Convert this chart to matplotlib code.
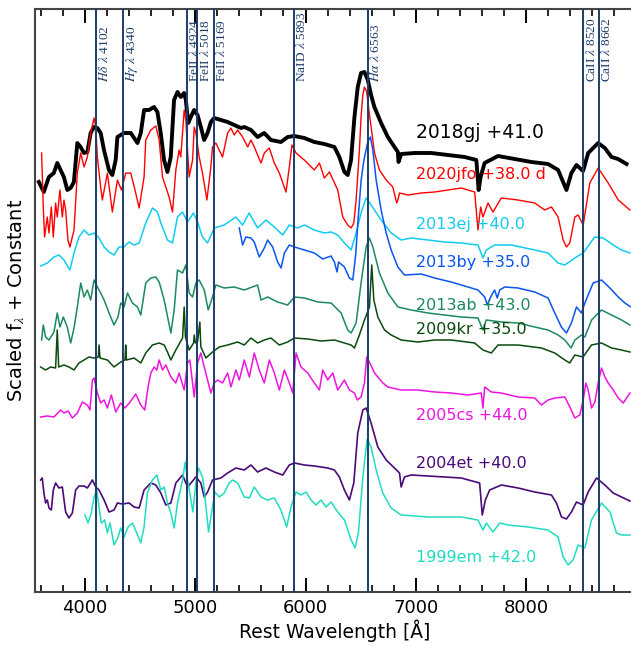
import matplotlib
matplotlib.use("Agg")
import matplotlib.pyplot as plt
from matplotlib.ticker import MultipleLocator

plt.rcParams['mathtext.fontset'] = 'stix'

# Spectra: rest wavelength [A] and scaled flux + constant
wl_2018gj = [3580, 3625, 3671, 3716, 3747, 3777, 3807, 3838, 3868, 3898, 3929, 3959, 3989, 4020, 4050,
             4080, 4111, 4141, 4171, 4216, 4247, 4277, 4293, 4323, 4353, 4414, 4475, 4505, 4535, 4580,
             4625, 4656, 4686, 4716, 4747, 4777, 4807, 4838, 4868, 4898, 4914, 4935, 4959, 4989, 5020,
             5050, 5080, 5111, 5141, 5171, 5232, 5293, 5353, 5414, 5444, 5505, 5565, 5625, 5686, 5777,
             5838, 5898, 5989, 6080, 6171, 6262, 6307, 6353, 6383, 6413, 6444, 6474, 6504, 6535, 6565,
             6595, 6625, 6686, 6747, 6807, 6838, 6844, 6868, 6989, 7141, 7292, 7444, 7550, 7571, 7589,
             7625, 7747, 7898, 8050, 8201, 8292, 8368, 8413, 8459, 8519, 8565, 8656, 8716, 8777, 8837,
             8913]
fx_2018gj = [4.10, 4.00, 4.15, 4.19, 4.29, 4.22, 4.15, 4.02, 4.04, 4.10, 4.49, 4.45, 4.39, 4.40, 4.59,
             4.65, 4.64, 4.59, 4.42, 4.22, 4.17, 4.32, 4.55, 4.57, 4.59, 4.59, 4.49, 4.59, 4.82, 4.82,
             4.85, 4.80, 4.59, 4.32, 4.20, 4.35, 4.92, 5.00, 4.95, 4.99, 4.92, 4.69, 4.75, 4.82, 4.77,
             4.65, 4.52, 4.59, 4.70, 4.74, 4.72, 4.70, 4.67, 4.64, 4.65, 4.62, 4.55, 4.59, 4.52, 4.50,
             4.55, 4.56, 4.54, 4.50, 4.48, 4.45, 4.35, 4.20, 4.17, 4.32, 4.75, 5.05, 5.19, 5.20, 5.12,
             4.97, 4.85, 4.69, 4.55, 4.45, 4.40, 4.30, 4.38, 4.39, 4.39, 4.37, 4.35, 4.32, 4.02, 4.15,
             4.29, 4.36, 4.33, 4.30, 4.28, 4.22, 4.02, 4.19, 4.27, 4.21, 4.39, 4.49, 4.44, 4.35, 4.33,
             4.28]

wl_2020jfo = [3605, 3620, 3632, 3656, 3672, 3693, 3711, 3732, 3747, 3771, 3793, 3808, 3823, 3844, 3862,
              3884, 3899, 3929, 3960, 3990, 4020, 4050, 4081, 4096, 4111, 4141, 4156, 4202, 4247, 4293,
              4329, 4369, 4414, 4459, 4490, 4535, 4550, 4596, 4641, 4672, 4702, 4762, 4793, 4823, 4853,
              4868, 4899, 4914, 4929, 4944, 4975, 4990, 5005, 5035, 5065, 5105, 5141, 5156, 5186, 5217,
              5247, 5293, 5323, 5353, 5384, 5429, 5475, 5505, 5535, 5596, 5626, 5671, 5717, 5762, 5823,
              5853, 5877, 5914, 5989, 6080, 6126, 6171, 6217, 6292, 6338, 6383, 6414, 6438, 6459, 6489,
              6505, 6520, 6535, 6555, 6575, 6595, 6626, 6671, 6732, 6792, 6828, 6838, 6853, 6929, 7050,
              7171, 7413, 7535, 7565, 7589, 7610, 7656, 7701, 7777, 7929, 8080, 8171, 8232, 8292, 8338,
              8368, 8398, 8444, 8474, 8520, 8580, 8656, 8747, 8838, 8944]
fx_2020jfo = [4.39, 3.85, 3.55, 3.75, 3.59, 3.85, 3.55, 3.89, 3.75, 4.02, 3.75, 3.92, 3.82, 3.52, 3.45,
              3.55, 3.62, 4.19, 4.39, 4.25, 4.35, 4.59, 4.74, 4.65, 4.35, 4.05, 3.92, 4.19, 3.80, 4.12,
              4.02, 4.19, 4.19, 3.99, 3.84, 4.15, 4.52, 4.62, 4.66, 4.52, 4.15, 3.95, 3.80, 4.22, 4.42,
              4.35, 4.82, 4.72, 4.42, 4.15, 4.32, 4.65, 4.59, 4.35, 4.19, 3.92, 4.25, 4.45, 4.49, 4.42,
              4.35, 4.59, 4.64, 4.57, 4.62, 4.55, 4.45, 4.52, 4.45, 4.29, 4.39, 4.44, 4.29, 4.19, 4.00,
              4.25, 4.47, 4.39, 4.32, 4.22, 4.29, 4.14, 4.20, 4.02, 3.75, 3.67, 3.64, 3.69, 3.92, 4.42,
              4.77, 4.97, 5.05, 5.00, 4.82, 4.65, 4.39, 4.22, 4.12, 4.05, 3.89, 3.92, 3.99, 3.97, 3.99,
              4.00, 4.04, 4.00, 3.62, 3.85, 3.75, 3.89, 3.80, 3.94, 3.92, 3.89, 3.82, 3.85, 3.75, 3.52,
              3.45, 3.49, 3.75, 3.77, 3.67, 4.09, 4.24, 4.09, 3.92, 3.82]

wl_2013ej = [3596, 3657, 3717, 3762, 3808, 3862, 3899, 3944, 3990, 4035, 4081, 4126, 4172, 4217, 4262,
             4308, 4353, 4399, 4444, 4490, 4550, 4611, 4656, 4687, 4747, 4793, 4838, 4884, 4929, 4983,
             5020, 5065, 5111, 5171, 5262, 5368, 5429, 5489, 5565, 5641, 5717, 5793, 5853, 5929, 5990,
             6080, 6171, 6232, 6292, 6353, 6414, 6459, 6504, 6550, 6595, 6686, 6777, 6868, 6959, 7110,
             7262, 7413, 7565, 7610, 7641, 7716, 7868, 8080, 8201, 8292, 8353, 8444, 8519, 8625, 8701,
             8792, 8868, 8944]
fx_2013ej = [3.26, 3.29, 3.35, 3.37, 3.32, 3.22, 3.39, 3.55, 3.62, 3.57, 3.59, 3.54, 3.45, 3.40, 3.37,
             3.45, 3.45, 3.50, 3.47, 3.49, 3.69, 3.84, 3.80, 3.69, 3.52, 3.49, 3.75, 3.80, 3.70, 3.79,
             3.70, 3.55, 3.49, 3.64, 3.67, 3.75, 3.67, 3.79, 3.64, 3.72, 3.65, 3.57, 3.67, 3.64, 3.67,
             3.62, 3.59, 3.60, 3.57, 3.49, 3.42, 3.59, 3.79, 3.94, 3.87, 3.72, 3.59, 3.52, 3.54, 3.52,
             3.50, 3.49, 3.47, 3.34, 3.42, 3.47, 3.47, 3.42, 3.39, 3.29, 3.27, 3.34, 3.39, 3.55, 3.54,
             3.47, 3.42, 3.39]

wl_2013by = [5399, 5429, 5459, 5505, 5535, 5580, 5626, 5656, 5702, 5747, 5778, 5808, 5853, 5899, 5990,
             6080, 6156, 6232, 6262, 6286, 6300, 6353, 6398, 6429, 6455, 6480, 6505, 6530, 6565, 6589,
             6611, 6641, 6686, 6732, 6777, 6838, 6898, 7050, 7171, 7322, 7474, 7565, 7626, 7650, 7680,
             7716, 7740, 7762, 7808, 7929, 8080, 8201, 8262, 8322, 8368, 8413, 8459, 8504, 8535, 8610,
             8686, 8762, 8838, 8898, 8953]
fx_2013by = [3.64, 3.47, 3.55, 3.54, 3.50, 3.35, 3.44, 3.52, 3.45, 3.30, 3.24, 3.39, 3.47, 3.45, 3.42,
             3.39, 3.33, 3.36, 3.30, 3.20, 3.30, 3.25, 3.14, 3.12, 3.37, 3.77, 4.12, 4.32, 4.50, 4.55,
             4.42, 4.12, 3.82, 3.59, 3.42, 3.25, 3.17, 3.18, 3.14, 3.10, 3.05, 3.02, 2.95, 2.87, 2.95,
             3.02, 2.94, 3.02, 3.05, 3.04, 3.00, 2.94, 2.79, 2.65, 2.59, 2.69, 2.85, 2.79, 2.89, 3.09,
             3.12, 3.04, 2.95, 2.89, 2.85]

wl_2013ab = [3605, 3620, 3641, 3672, 3717, 3747, 3772, 3802, 3838, 3869, 3899, 3929, 3960, 3990, 4020,
             4050, 4081, 4111, 4141, 4172, 4217, 4262, 4298, 4323, 4353, 4384, 4429, 4475, 4505, 4550,
             4596, 4641, 4672, 4717, 4778, 4808, 4838, 4884, 4914, 4944, 4975, 5005, 5035, 5081, 5117,
             5156, 5186, 5262, 5353, 5444, 5565, 5596, 5656, 5747, 5838, 5899, 5990, 6111, 6232, 6323,
             6383, 6414, 6459, 6504, 6550, 6580, 6611, 6671, 6747, 6838, 6959, 7110, 7262, 7413, 7565,
             7610, 7640, 7777, 7929, 8080, 8201, 8292, 8353, 8410, 8444, 8505, 8535, 8596, 8686, 8777,
             8868, 8944]
fx_2013ab = [2.52, 2.67, 2.55, 2.52, 2.60, 2.79, 2.65, 2.75, 2.65, 2.49, 2.64, 2.85, 3.09, 2.95, 3.02,
             2.92, 3.12, 3.05, 2.99, 2.92, 2.79, 2.67, 2.75, 2.89, 2.85, 2.99, 2.89, 2.85, 2.77, 3.09,
             3.14, 3.15, 3.10, 2.92, 2.59, 2.82, 3.22, 3.19, 3.27, 2.99, 2.95, 3.09, 3.12, 3.02, 2.82,
             2.95, 3.07, 3.04, 3.05, 3.02, 3.07, 2.92, 2.95, 2.90, 2.87, 2.95, 2.94, 2.90, 2.89, 2.79,
             2.62, 2.59, 2.69, 3.09, 3.45, 3.54, 3.45, 3.19, 2.99, 2.85, 2.82, 2.79, 2.77, 2.75, 2.74,
             2.62, 2.72, 2.70, 2.69, 2.65, 2.62, 2.57, 2.52, 2.44, 2.52, 2.57, 2.55, 2.72, 2.82, 2.77,
             2.72, 2.67]

wl_2009kr = [3596, 3641, 3687, 3732, 3747, 3760, 3808, 3853, 3899, 3944, 3990, 4035, 4081, 4120, 4126,
             4135, 4202, 4262, 4323, 4362, 4368, 4375, 4444, 4505, 4550, 4611, 4672, 4717, 4747, 4778,
             4823, 4884, 4899, 4910, 4944, 4984, 4990, 5000, 5020, 5041, 5050, 5096, 5156, 5217, 5293,
             5384, 5444, 5505, 5565, 5626, 5686, 5762, 5838, 5899, 6020, 6141, 6262, 6353, 6414, 6444,
             6489, 6535, 6580, 6601, 6620, 6656, 6717, 6777, 6868, 7020, 7171, 7322, 7535, 7610, 7686,
             7747, 7929, 8141, 8262, 8353, 8398, 8444, 8519, 8595, 8686, 8777, 8868, 8944]
fx_2009kr = [2.25, 2.22, 2.25, 2.24, 2.62, 2.25, 2.27, 2.25, 2.22, 2.29, 2.32, 2.35, 2.34, 2.35, 2.47,
             2.34, 2.32, 2.25, 2.30, 2.32, 2.47, 2.32, 2.34, 2.29, 2.39, 2.47, 2.49, 2.47, 2.40, 2.32,
             2.42, 2.54, 2.85, 2.55, 2.42, 2.49, 2.57, 2.49, 2.50, 2.70, 2.45, 2.34, 2.40, 2.45, 2.47,
             2.50, 2.47, 2.54, 2.49, 2.52, 2.54, 2.47, 2.50, 2.54, 2.53, 2.51, 2.52, 2.49, 2.47, 2.44,
             2.57, 2.72, 2.85, 3.27, 2.92, 2.75, 2.62, 2.57, 2.52, 2.50, 2.52, 2.52, 2.49, 2.42, 2.39,
             2.47, 2.47, 2.44, 2.39, 2.32, 2.29, 2.37, 2.35, 2.47, 2.49, 2.44, 2.42, 2.40]

wl_2005cs = [3596, 3657, 3717, 3778, 3808, 3847, 3884, 3929, 3975, 4020, 4044, 4066, 4081, 4111, 4141,
             4172, 4202, 4238, 4278, 4323, 4362, 4408, 4459, 4505, 4541, 4571, 4596, 4626, 4650, 4672,
             4702, 4732, 4778, 4823, 4853, 4899, 4929, 4950, 4990, 5020, 5050, 5081, 5111, 5141, 5171,
             5202, 5247, 5293, 5323, 5368, 5399, 5444, 5490, 5535, 5580, 5626, 5672, 5717, 5762, 5808,
             5853, 5884, 5914, 5959, 6020, 6080, 6126, 6156, 6201, 6247, 6292, 6353, 6398, 6444, 6470,
             6504, 6535, 6555, 6580, 6626, 6702, 6747, 6868, 7020, 7171, 7322, 7474, 7595, 7610, 7626,
             7686, 7777, 7929, 8080, 8141, 8201, 8262, 8353, 8399, 8444, 8489, 8520, 8544, 8565, 8596,
             8626, 8656, 8686, 8717, 8747, 8792, 8838, 8883, 8944]
fx_2005cs = [1.75, 1.76, 1.75, 1.82, 1.79, 1.81, 1.74, 1.79, 1.90, 1.87, 1.82, 2.12, 2.14, 1.99, 1.89,
             1.92, 1.84, 1.97, 1.80, 1.89, 1.84, 1.90, 1.98, 1.87, 1.82, 2.05, 2.19, 2.25, 2.22, 2.32,
             2.22, 2.27, 2.15, 2.09, 2.19, 2.02, 2.29, 2.32, 1.95, 2.29, 2.39, 2.25, 2.12, 1.99, 2.09,
             2.12, 2.09, 2.19, 2.05, 2.22, 2.12, 2.32, 2.15, 2.39, 2.22, 2.09, 2.32, 2.19, 2.02, 2.22,
             2.09, 1.99, 2.39, 2.25, 2.19, 2.09, 2.02, 2.22, 2.12, 2.19, 2.02, 2.12, 2.02, 1.99, 1.92,
             1.95, 2.09, 2.35, 2.30, 2.19, 2.09, 2.05, 2.02, 2.02, 2.00, 1.99, 1.97, 1.99, 1.84, 2.05,
             2.00, 1.99, 1.95, 1.94, 1.87, 1.92, 1.94, 1.95, 1.85, 1.74, 1.77, 1.92, 2.09, 2.02, 1.84,
             1.90, 2.09, 2.24, 2.15, 2.09, 2.02, 1.94, 1.89, 1.99]

wl_2004et = [3596, 3611, 3626, 3641, 3657, 3672, 3693, 3711, 3732, 3762, 3793, 3823, 3853, 3884, 3914,
             3944, 3990, 4020, 4066, 4096, 4126, 4172, 4217, 4262, 4293, 4338, 4399, 4444, 4490, 4535,
             4596, 4641, 4687, 4732, 4778, 4823, 4884, 4929, 4960, 5005, 5050, 5081, 5111, 5156, 5232,
             5293, 5368, 5444, 5505, 5565, 5641, 5717, 5793, 5853, 5899, 5990, 6080, 6201, 6262, 6307,
             6353, 6398, 6438, 6474, 6520, 6550, 6595, 6656, 6732, 6807, 6853, 6868, 6898, 6959, 7110,
             7262, 7413, 7580, 7604, 7632, 7671, 7777, 7929, 8080, 8232, 8277, 8323, 8368, 8413, 8459,
             8519, 8565, 8641, 8716, 8792, 8868, 8944]
fx_2004et = [1.12, 1.14, 0.99, 0.89, 0.92, 0.84, 0.82, 1.02, 1.09, 1.04, 1.05, 0.80, 0.74, 0.79, 1.02,
             1.06, 1.06, 1.04, 1.12, 1.05, 1.02, 0.92, 0.80, 0.82, 0.89, 0.88, 0.89, 0.85, 0.84, 1.02,
             1.09, 1.07, 0.99, 0.87, 0.89, 1.09, 1.17, 1.05, 1.09, 1.15, 1.09, 0.95, 1.00, 1.12, 1.14,
             1.19, 1.24, 1.22, 1.27, 1.20, 1.24, 1.20, 1.17, 1.27, 1.29, 1.27, 1.26, 1.24, 1.22, 1.15,
             1.02, 0.92, 1.09, 1.59, 1.82, 1.84, 1.69, 1.45, 1.32, 1.24, 1.19, 1.05, 1.15, 1.17, 1.16,
             1.15, 1.14, 1.09, 0.77, 0.92, 1.02, 1.07, 1.04, 1.00, 0.97, 0.89, 0.75, 0.73, 0.80, 0.90,
             0.87, 1.00, 1.14, 1.07, 0.99, 0.95, 0.91]

wl_1999em = [3999, 4026, 4056, 4081, 4105, 4126, 4147, 4177, 4202, 4226, 4262, 4299, 4323, 4353, 4389,
             4429, 4469, 4505, 4535, 4565, 4611, 4650, 4687, 4717, 4747, 4778, 4808, 4838, 4884, 4908,
             4929, 4960, 4978, 5005, 5029, 5065, 5081, 5120, 5156, 5177, 5217, 5262, 5308, 5338, 5384,
             5444, 5490, 5535, 5596, 5656, 5717, 5777, 5829, 5868, 5914, 5959, 6005, 6050, 6095, 6141,
             6186, 6232, 6292, 6353, 6414, 6450, 6480, 6520, 6559, 6595, 6641, 6701, 6777, 6868, 6989,
             7110, 7262, 7413, 7565, 7610, 7641, 7701, 7762, 7838, 8020, 8201, 8292, 8338, 8383, 8428,
             8474, 8535, 8595, 8686, 8762, 8822, 8868, 8944]
fx_1999em = [0.77, 0.69, 0.79, 0.95, 1.02, 0.85, 0.69, 0.72, 0.59, 0.69, 0.47, 0.55, 0.64, 0.55, 0.65,
             0.69, 0.59, 0.49, 0.65, 0.99, 1.12, 1.17, 1.02, 1.05, 0.89, 0.79, 0.64, 0.89, 1.12, 1.30,
             1.12, 0.92, 0.80, 1.09, 1.24, 1.15, 1.02, 0.60, 0.85, 1.00, 0.95, 0.99, 1.09, 1.12, 1.09,
             0.95, 0.94, 1.05, 0.95, 0.92, 0.94, 0.82, 0.65, 0.85, 1.00, 0.97, 1.00, 0.92, 0.87, 0.92,
             0.85, 0.90, 0.80, 0.72, 0.52, 0.44, 0.59, 1.15, 1.53, 1.45, 1.22, 0.99, 0.84, 0.77, 0.76,
             0.75, 0.75, 0.75, 0.72, 0.62, 0.69, 0.60, 0.69, 0.67, 0.65, 0.62, 0.55, 0.35, 0.27, 0.32,
             0.47, 0.44, 0.72, 0.89, 0.80, 0.59, 0.57, 0.57]

# Labels (name + phase), text heights and colours
labels = ["2018gj +41.0", "2020jfo +38.0 d", "2013ej +40.0", "2013by +35.0", "2013ab +43.0",
          "2009kr +35.0", "2005cs +44.0", "2004et +40.0", "1999em +42.0"]
label_y = [4.60, 4.17, 3.68, 3.29, 2.86, 2.62, 1.77, 1.29, 0.35]
colors = ["black", "#ff0000", "#10ccf0", "#0a55f0", "#1b8a5e", "#0a4a0e", "#ee14e0", "#4a0a78", "#20dcc0"]
widths = [2.8, 1.0, 1.1, 1.1, 1.1, 1.1, 1.1, 1.2, 1.1]

spectra = [(wl_2018gj, fx_2018gj), (wl_2020jfo, fx_2020jfo), (wl_2013ej, fx_2013ej),
           (wl_2013by, fx_2013by), (wl_2013ab, fx_2013ab), (wl_2009kr, fx_2009kr),
           (wl_2005cs, fx_2005cs), (wl_2004et, fx_2004et), (wl_1999em, fx_1999em)]

# Line identifications
line_wl = [4102, 4340, 4924, 5018, 5169, 5893, 6563, 8520, 8662]
line_names = [r"$H\delta$ $\lambda$ 4102", r"$H\gamma$ $\lambda$ 4340", r"FeII $\lambda$ 4924",
              r"FeII $\lambda$ 5018", r"FeII $\lambda$ 5169", r"NaID $\lambda$ 5893",
              r"$H\alpha$ $\lambda$ 6563", r"CaII $\lambda$ 8520", r"CaII $\lambda$ 8662"]
line_color = "#1d3c6a"

fig = plt.figure(figsize=(6.31, 6.46), dpi=100)
ax = fig.add_axes([35 / 631, 54 / 646, 600 / 631, 583 / 646])

for (wl, fx), c, lw in zip(spectra, colors, widths):
    ax.plot(wl, fx, color=c, lw=lw)

for i, lab in enumerate(labels):
    ax.text(7005, label_y[i], lab, color=colors[i], va="center", ha="left",
            fontsize=13.5 if i == 0 else 11.5)

for w, t in zip(line_wl, line_names):
    ax.axvline(w, color=line_color, lw=1.4, zorder=5)
    ax.text(w + 12, 5.10, t, rotation=90, ha="left", va="bottom", color=line_color,
            fontsize=9.6, family="Liberation Serif", clip_on=False)

ax.set_xlim(3545, 8990)
ax.set_ylim(0, 5.83)
ax.set_yticks([])
ax.xaxis.set_major_locator(MultipleLocator(1000))
ax.xaxis.set_minor_locator(MultipleLocator(200))
ax.tick_params(which="both", direction="in", top=True, bottom=True, labelsize=13, pad=5)
ax.tick_params(which="major", length=10, width=1.4)
ax.tick_params(which="minor", length=5, width=1.2)
for s in ax.spines.values():
    s.set_color("#444444")
    s.set_linewidth(1.5)

ax.set_xlabel("Rest Wavelength [Å]", fontsize=13.5, labelpad=2)
ax.set_ylabel(r"Scaled f$_\lambda$ + Constant", fontsize=14, labelpad=6)

fig.savefig("out.png", dpi=100)
